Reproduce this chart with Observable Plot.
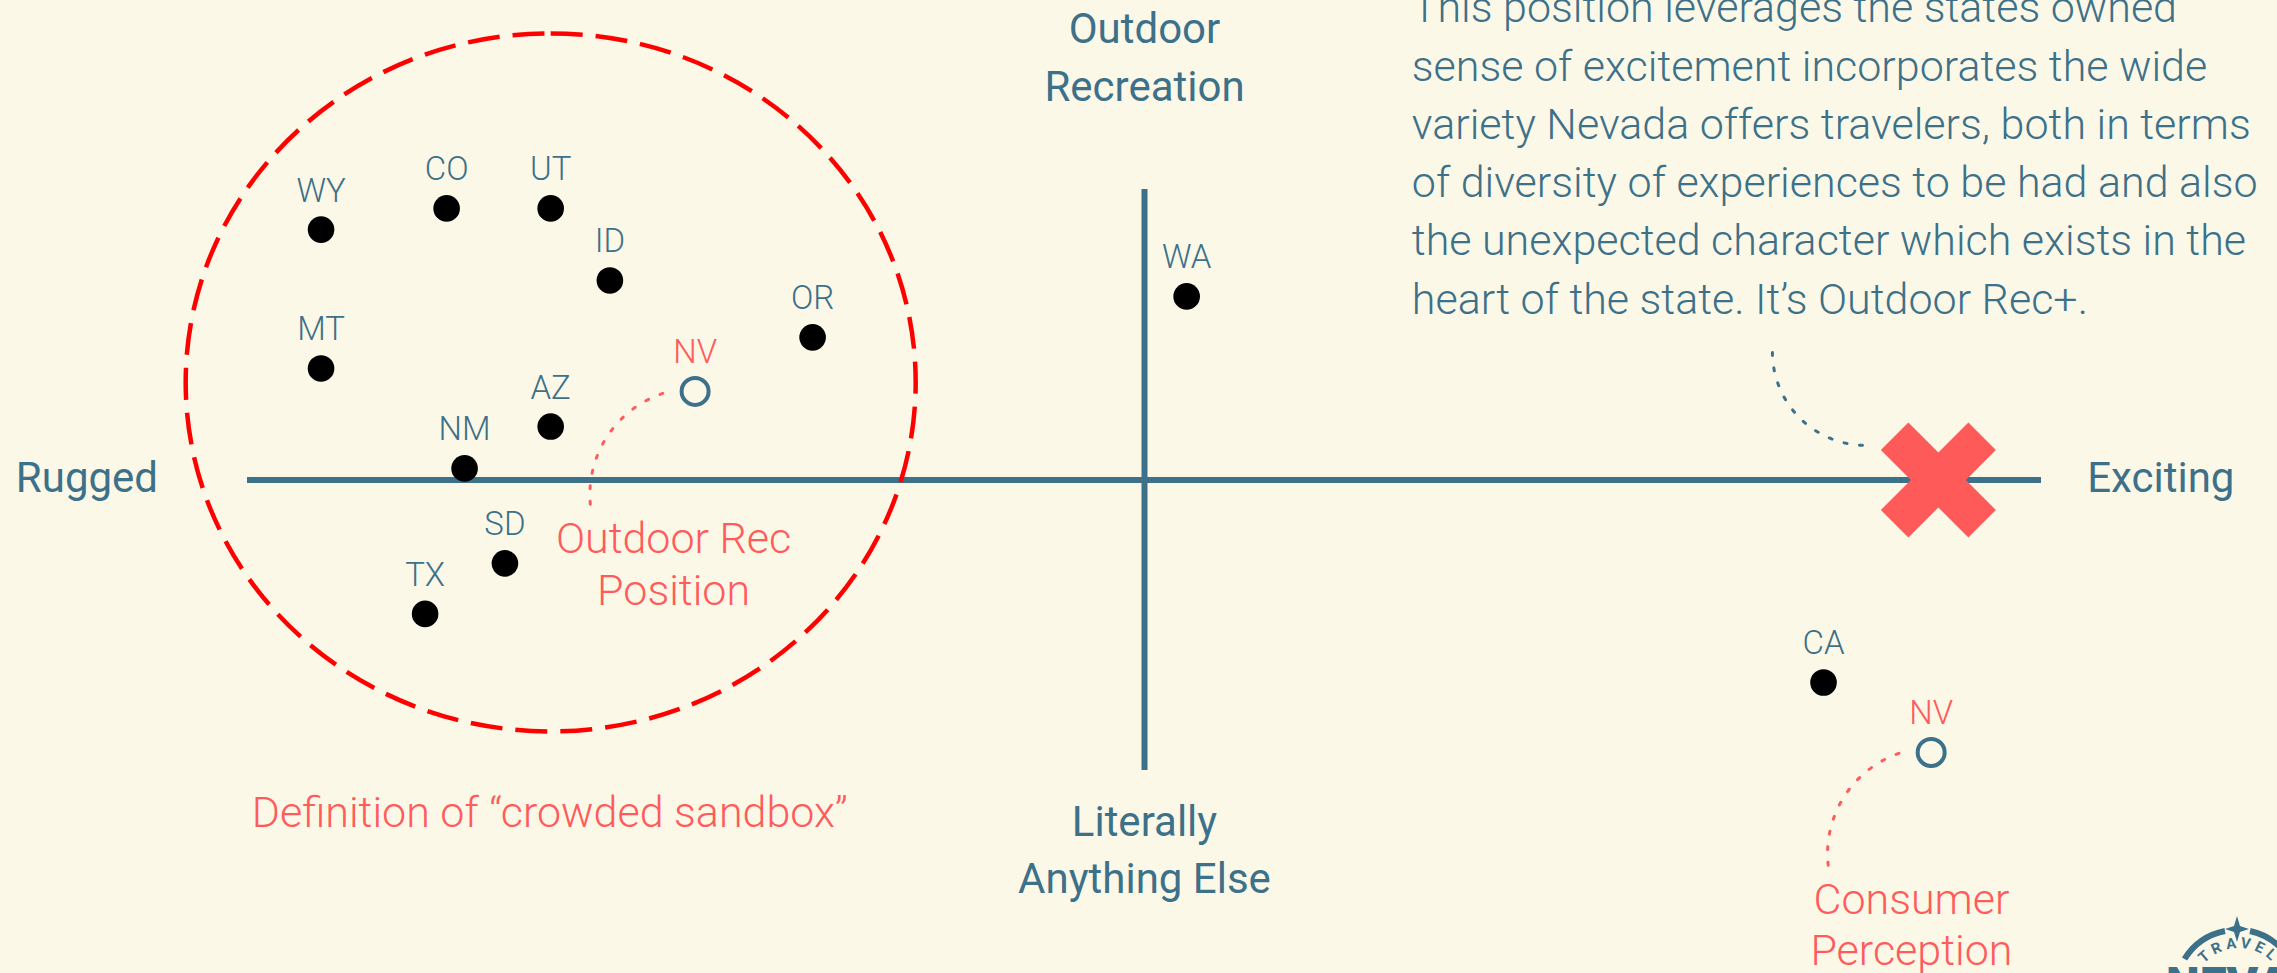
<!DOCTYPE html>
<html>
<head>
<meta charset="utf-8">
<script src="https://cdn.jsdelivr.net/npm/d3@7"></script>
<script src="https://cdn.jsdelivr.net/npm/@observablehq/plot@0.6"></script>
<style>
  html, body { margin: 0; padding: 0; background: #fcf8e8; }
  #wrap { position: relative; width: 2277px; height: 973px; overflow: hidden; background: #fcf8e8; }
  #logo { position: absolute; left: 0; top: 0; pointer-events: none; }
</style>
</head>
<body>
<div id="wrap"></div>
<script>
// ---- data (x: Rugged -10 … Exciting +10, y: Anything Else -10 … Outdoor Recreation +10)
const states        = ["WY", "CO", "UT", "ID", "MT", "OR", "AZ", "NM", "WA", "SD", "TX", "CA"];
const excitingScore = [-9.18, -7.78, -6.62, -5.96, -9.18, -3.70, -6.62, -7.58, 0.47, -7.13, -8.02, 7.57];
const outdoorScore  = [ 8.62,  9.35,  9.35,  6.87,  3.84,  4.91,  1.84,  0.40, 6.32, -2.87, -4.61, -6.97];

const nevadaLabels   = ["NV", "NV"];
const nevadaExciting = [-5.01, 8.77];
const nevadaOutdoor  = [3.05, -9.38];

const targetExciting = [8.85];
const targetOutdoor  = [0];

// crowded-sandbox ellipse (centre, in scores)
const sandboxExciting = [-6.62];
const sandboxOutdoor  = [3.36];

const axisEndLabels   = ["Outdoor\nRecreation", "Literally\nAnything Else", "Rugged", "Exciting"];
const axisEndExciting = [0, 0, -11.79, 11.33];
const axisEndOutdoor  = [13.06, -14.23, -0.43, -0.43];

const noteTexts    = ["Outdoor Rec\nPosition", "Consumer\nPerception", "Definition of “crowded sandbox”"];
const noteExciting = [-5.25, 8.55, -6.63];
const noteOutdoor  = [-4.29, -16.71, -11.96];

const paragraph = "This position leverages the states owned\nsense of excitement incorporates the wide\nvariety Nevada offers travelers, both in terms\nof diversity of experiences to be had and also\nthe unexpected character which exists in the\nheart of the state. It’s Outdoor Rec+.";
const paragraphExciting = [2.98];
const paragraphOutdoor  = [5.73];

// dotted connectors: [x1, y1, x2, y2]
const coralConnectors = [
  [-5.37, 2.98, -6.17, -1.05],
  [8.41, -9.41, 7.63, -13.44]
];
const tealConnectors = [
  [7.0, 4.39, 8.05, 1.19]
];

// ---- styles
const teal = "#3d7189";
const coral = "#ff5b5b";
const font = "Roboto, 'Noto Sans', sans-serif";

const stateData  = states.map((s, i) => ({s, x: excitingScore[i], y: outdoorScore[i]}));
const nevadaData = nevadaLabels.map((s, i) => ({s, x: nevadaExciting[i], y: nevadaOutdoor[i]}));
const targetData = targetExciting.map((x, i) => ({x, y: targetOutdoor[i]}));
const sandboxData = sandboxExciting.map((x, i) => ({x, y: sandboxOutdoor[i]}));
const axisEndData = axisEndLabels.map((t, i) => ({t, x: axisEndExciting[i], y: axisEndOutdoor[i]}));
const noteData = noteTexts.map((t, i) => ({t, x: noteExciting[i], y: noteOutdoor[i]}));
const paraData = [{t: paragraph, x: paragraphExciting[0], y: paragraphOutdoor[0]}];
const toLink = ([x1, y1, x2, y2]) => ({x1, y1, x2, y2});

// custom symbols
const ellipseSymbol = (ratio) => ({
  draw(ctx, size) {
    const ry = Math.sqrt(size / Math.PI), rx = ry * ratio, k = 0.5522847;
    ctx.moveTo(0, -ry);
    ctx.bezierCurveTo(k * rx, -ry, rx, -k * ry, rx, 0);
    ctx.bezierCurveTo(rx, k * ry, k * rx, ry, 0, ry);
    ctx.bezierCurveTo(-k * rx, ry, -rx, k * ry, -rx, 0);
    ctx.bezierCurveTo(-rx, -k * ry, -k * rx, -ry, 0, -ry);
    ctx.closePath();
  }
});
const crossSymbol = (armRatio) => ({
  draw(ctx, size) {
    const r = Math.sqrt(size / Math.PI), q = r * armRatio;
    const pts = [[0, -q], [r - q, -r], [r, -(r - q)], [q, 0], [r, r - q], [r - q, r],
                 [0, q], [-(r - q), r], [-r, r - q], [-q, 0], [-r, -(r - q)], [-(r - q), -r]];
    ctx.moveTo(pts[0][0], pts[0][1]);
    for (const p of pts.slice(1)) ctx.lineTo(p[0], p[1]);
    ctx.closePath();
  }
});

const chart = Plot.plot({
  width: 2277,
  height: 973,
  margin: 0,
  style: {background: "#fcf8e8", fontFamily: font},
  x: {domain: [-10, 10], range: [247, 2041], axis: null},
  y: {domain: [-10, 10], range: [770, 189], axis: null},
  marks: [
    // axes
    Plot.ruleY([0], {x1: -10, x2: 10, stroke: teal, strokeWidth: 6}),
    Plot.ruleX([0], {y1: -10, y2: 10, stroke: teal, strokeWidth: 6}),
    // crowded sandbox
    Plot.dot(sandboxData, {x: "x", y: "y", r: 349, symbol: ellipseSymbol(365 / 349),
      fill: "none", stroke: "#ff0000", strokeWidth: 4.5, strokeDasharray: "32,13"}),
    // connectors
    Plot.arrow(coralConnectors.map(toLink), {x1: "x1", y1: "y1", x2: "x2", y2: "y2", bend: -40,
      headLength: 0, stroke: coral, strokeWidth: 3, strokeDasharray: "3,12.5"}),
    Plot.arrow(tealConnectors.map(toLink), {x1: "x1", y1: "y1", x2: "x2", y2: "y2", bend: -45,
      headLength: 0, stroke: teal, strokeWidth: 3, strokeDasharray: "3,12.5"}),
    // target X
    Plot.dot(targetData, {x: "x", y: "y", r: 57.5, symbol: crossSymbol(27.5 / 57.5), fill: "#ff5a5a", stroke: "none"}),
    // states
    Plot.dot(stateData, {x: "x", y: "y", r: 13.3, fill: "#000"}),
    Plot.text(stateData, {x: "x", y: "y", text: "s", dy: -28, lineAnchor: "bottom",
      fill: teal, fontSize: 33, fontWeight: 300, fontFamily: font}),
    // Nevada
    Plot.dot(nevadaData, {x: "x", y: "y", r: 13.5, fill: "none", stroke: teal, strokeWidth: 4}),
    Plot.text(nevadaData, {x: "x", y: "y", text: "s", dy: -28, lineAnchor: "bottom",
      fill: coral, fontSize: 33, fontWeight: 300, fontFamily: font}),
    // axis end labels
    Plot.text(axisEndData, {x: "x", y: "y", text: "t", lineAnchor: "bottom", lineHeight: 1.36,
      fill: teal, fontSize: 42, fontWeight: 400, fontFamily: font}),
    // notes
    Plot.text(noteData, {x: "x", y: "y", text: "t", lineAnchor: "bottom", lineHeight: 1.19,
      fill: coral, fontSize: 43, fontWeight: 300, fontFamily: font}),
    // paragraph
    Plot.text(paraData, {x: "x", y: "y", text: "t", lineAnchor: "bottom", textAnchor: "start",
      lineHeight: 1.354, fill: teal, fontSize: 43, fontWeight: 300, fontFamily: font})
  ]
});

const wrap = document.getElementById("wrap");
wrap.appendChild(chart);

// Travel Nevada logo (partially cropped at the bottom-right corner)
wrap.insertAdjacentHTML("beforeend", `
<svg id="logo" width="2277" height="973" viewBox="0 0 2277 973">
  <defs><path id="logoArc" d="M 2193 994 A 46 46 0 0 1 2285 994"/></defs>
  <g fill="none" stroke="${teal}" stroke-width="6">
    <path d="M 2184.5 959 A 62 62 0 0 1 2225 931"/>
    <path d="M 2250 931 A 62 62 0 0 1 2295 970"/>
  </g>
  <path d="M 2237 916 L 2240 926 L 2249 929 L 2240 932 L 2237 942 L 2234 932 L 2225 929 L 2234 926 Z" fill="${teal}"/>
  <text font-family="${font}" font-weight="700" font-size="15" fill="${teal}" letter-spacing="4">
    <textPath href="#logoArc" startOffset="50%" text-anchor="middle">TRAVEL</textPath>
  </text>
  <text x="2166" y="1001" font-family="${font}" font-weight="900" font-size="48" fill="${teal}">NEVADA</text>
</svg>`);
</script>
</body>
</html>
